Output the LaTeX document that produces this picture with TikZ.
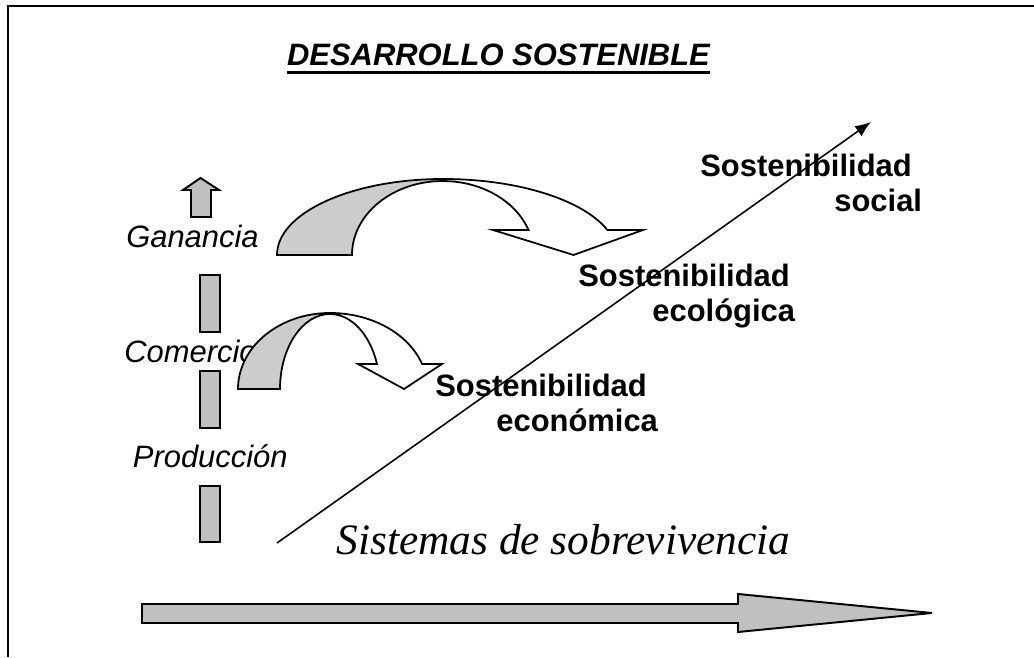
\documentclass[tikz,border=0pt]{standalone}
\usepackage{fontspec}
\setmainfont{Liberation Sans}
\newfontfamily\timesfont{Liberation Serif}
\usetikzlibrary{arrows.meta}
\definecolor{silverbar}{RGB}{192, 192, 192}
\definecolor{silverarc}{RGB}{204, 204, 204}

\begin{document}
\begin{tikzpicture}[
        bigtext/.style={inner sep=0pt, font=\fontsize{17.6}{20.4}\selectfont\bfseries, align=left},
        italtext/.style={inner sep=0pt, font=\fontsize{17.6}{20.4}\selectfont\itshape},
        bar/.style={draw=black, fill=silverbar, line width=1.1pt},
        arcshape/.style={draw=black, line width=1.0pt}]
            \useasboundingbox                                             (0.00, 0.00) rectangle (20.68, 13.14);
            \draw[line width=1.2pt]                                       (0.16, 0.00) -- (0.16, 13.02) -- (20.68, 13.02);
            \node[anchor=base, inner sep=0pt, font=\fontsize{17.6}{20}\selectfont\bfseries\itshape]
                 (title) at (9.97, 11.82) {DESARROLLO SOSTENIBLE};
            \draw[line width=1.6pt] ([yshift=-3.5pt]title.base west) -- ([yshift=-3.5pt]title.base east);
            % left column
            \node[italtext, anchor=base east] (ganancia)   at (5.18, 8.18) {Ganancia};
            \node[italtext, anchor=base east] (comercio)   at (5.14, 5.88) {Comercio};
            \node[italtext, anchor=base east] (produccion) at (5.76, 3.78) {Producción};
            \filldraw[bar] (3.82, 8.80) -- (4.22, 8.80) -- (4.22, 9.34) -- (4.38, 9.34) -- (4.01, 9.58) -- (3.66, 9.34) -- (3.82, 9.34) -- cycle;
            \filldraw[bar]                                                (4.00, 6.50) rectangle (4.40, 7.64);
            \filldraw[bar]                                                (4.00, 4.58) rectangle (4.40, 5.72);
            \filldraw[bar]                                                (4.00, 2.30) rectangle (4.40, 3.42);
            % curved arrows
            \filldraw[arcshape, fill=white] (8.86, 9.56) arc[start angle=90, end angle=19.2, x radius=3.48, y radius=1.52]
                 -- (12.86, 8.54) -- (11.47, 8.04) -- (9.86, 8.54) -- (10.57, 8.54)
                 arc[start angle=19.8, end angle=90, x radius=1.82, y radius=1.48] -- cycle;
            \filldraw[arcshape, fill=silverarc] (5.54, 8.04) arc[start angle=180, end angle=90, x radius=3.32, y radius=1.52]
                 -- (8.86, 9.52) arc[start angle=90, end angle=180, x radius=1.82, y radius=1.48] -- cycle;
            \filldraw[arcshape, fill=white] (6.60, 6.88) arc[start angle=90, end angle=19.2, x radius=1.95, y radius=1.52]
                 -- (8.84, 5.86) -- (8.08, 5.36) -- (7.16, 5.86) -- (7.54, 5.86)
                 arc[start angle=19.5, end angle=90, x radius=1.00, y radius=1.50] -- cycle;
            \filldraw[arcshape, fill=silverarc] (4.76, 5.36) arc[start angle=180, end angle=90, x radius=1.84, y radius=1.52]
                 -- (6.60, 6.86) arc[start angle=90, end angle=180, x radius=1.00, y radius=1.50] -- cycle;
            % sustainability labels
            \node[bigtext, anchor=base west] (social) at (14.00, 8.90) {Sostenibilidad\\\hspace*{2.68cm}social};
            \node[bigtext, anchor=base west] (ecol)   at (11.56, 6.70) {Sostenibilidad\\\hspace*{1.48cm}ecológica};
            \node[bigtext, anchor=base west] (econ)   at (8.70, 4.50)  {Sostenibilidad\\\hspace*{1.22cm}económica};
            \node[anchor=base west, inner sep=0pt, font=\timesfont\fontsize{24.7}{28}\selectfont\itshape]
                 (sistemas) at (6.72, 2.04) {Sistemas de sobrevivencia};
            \coordinate (trendstart) at (5.54, 2.28);
            \coordinate (trendend)   at (17.42, 10.70);
            \draw[line width=0.9pt, -{Latex[length=9pt, width=7pt]}] (trendstart) -- (trendend);
            % bottom arrow
            \filldraw[bar] (2.84, 0.68) -- (14.76, 0.68) -- (14.76, 0.50) -- (18.64, 0.88) -- (14.76, 1.26) -- (14.76, 1.06) -- (2.84, 1.06) -- cycle;
        \end{tikzpicture}
\end{document}
